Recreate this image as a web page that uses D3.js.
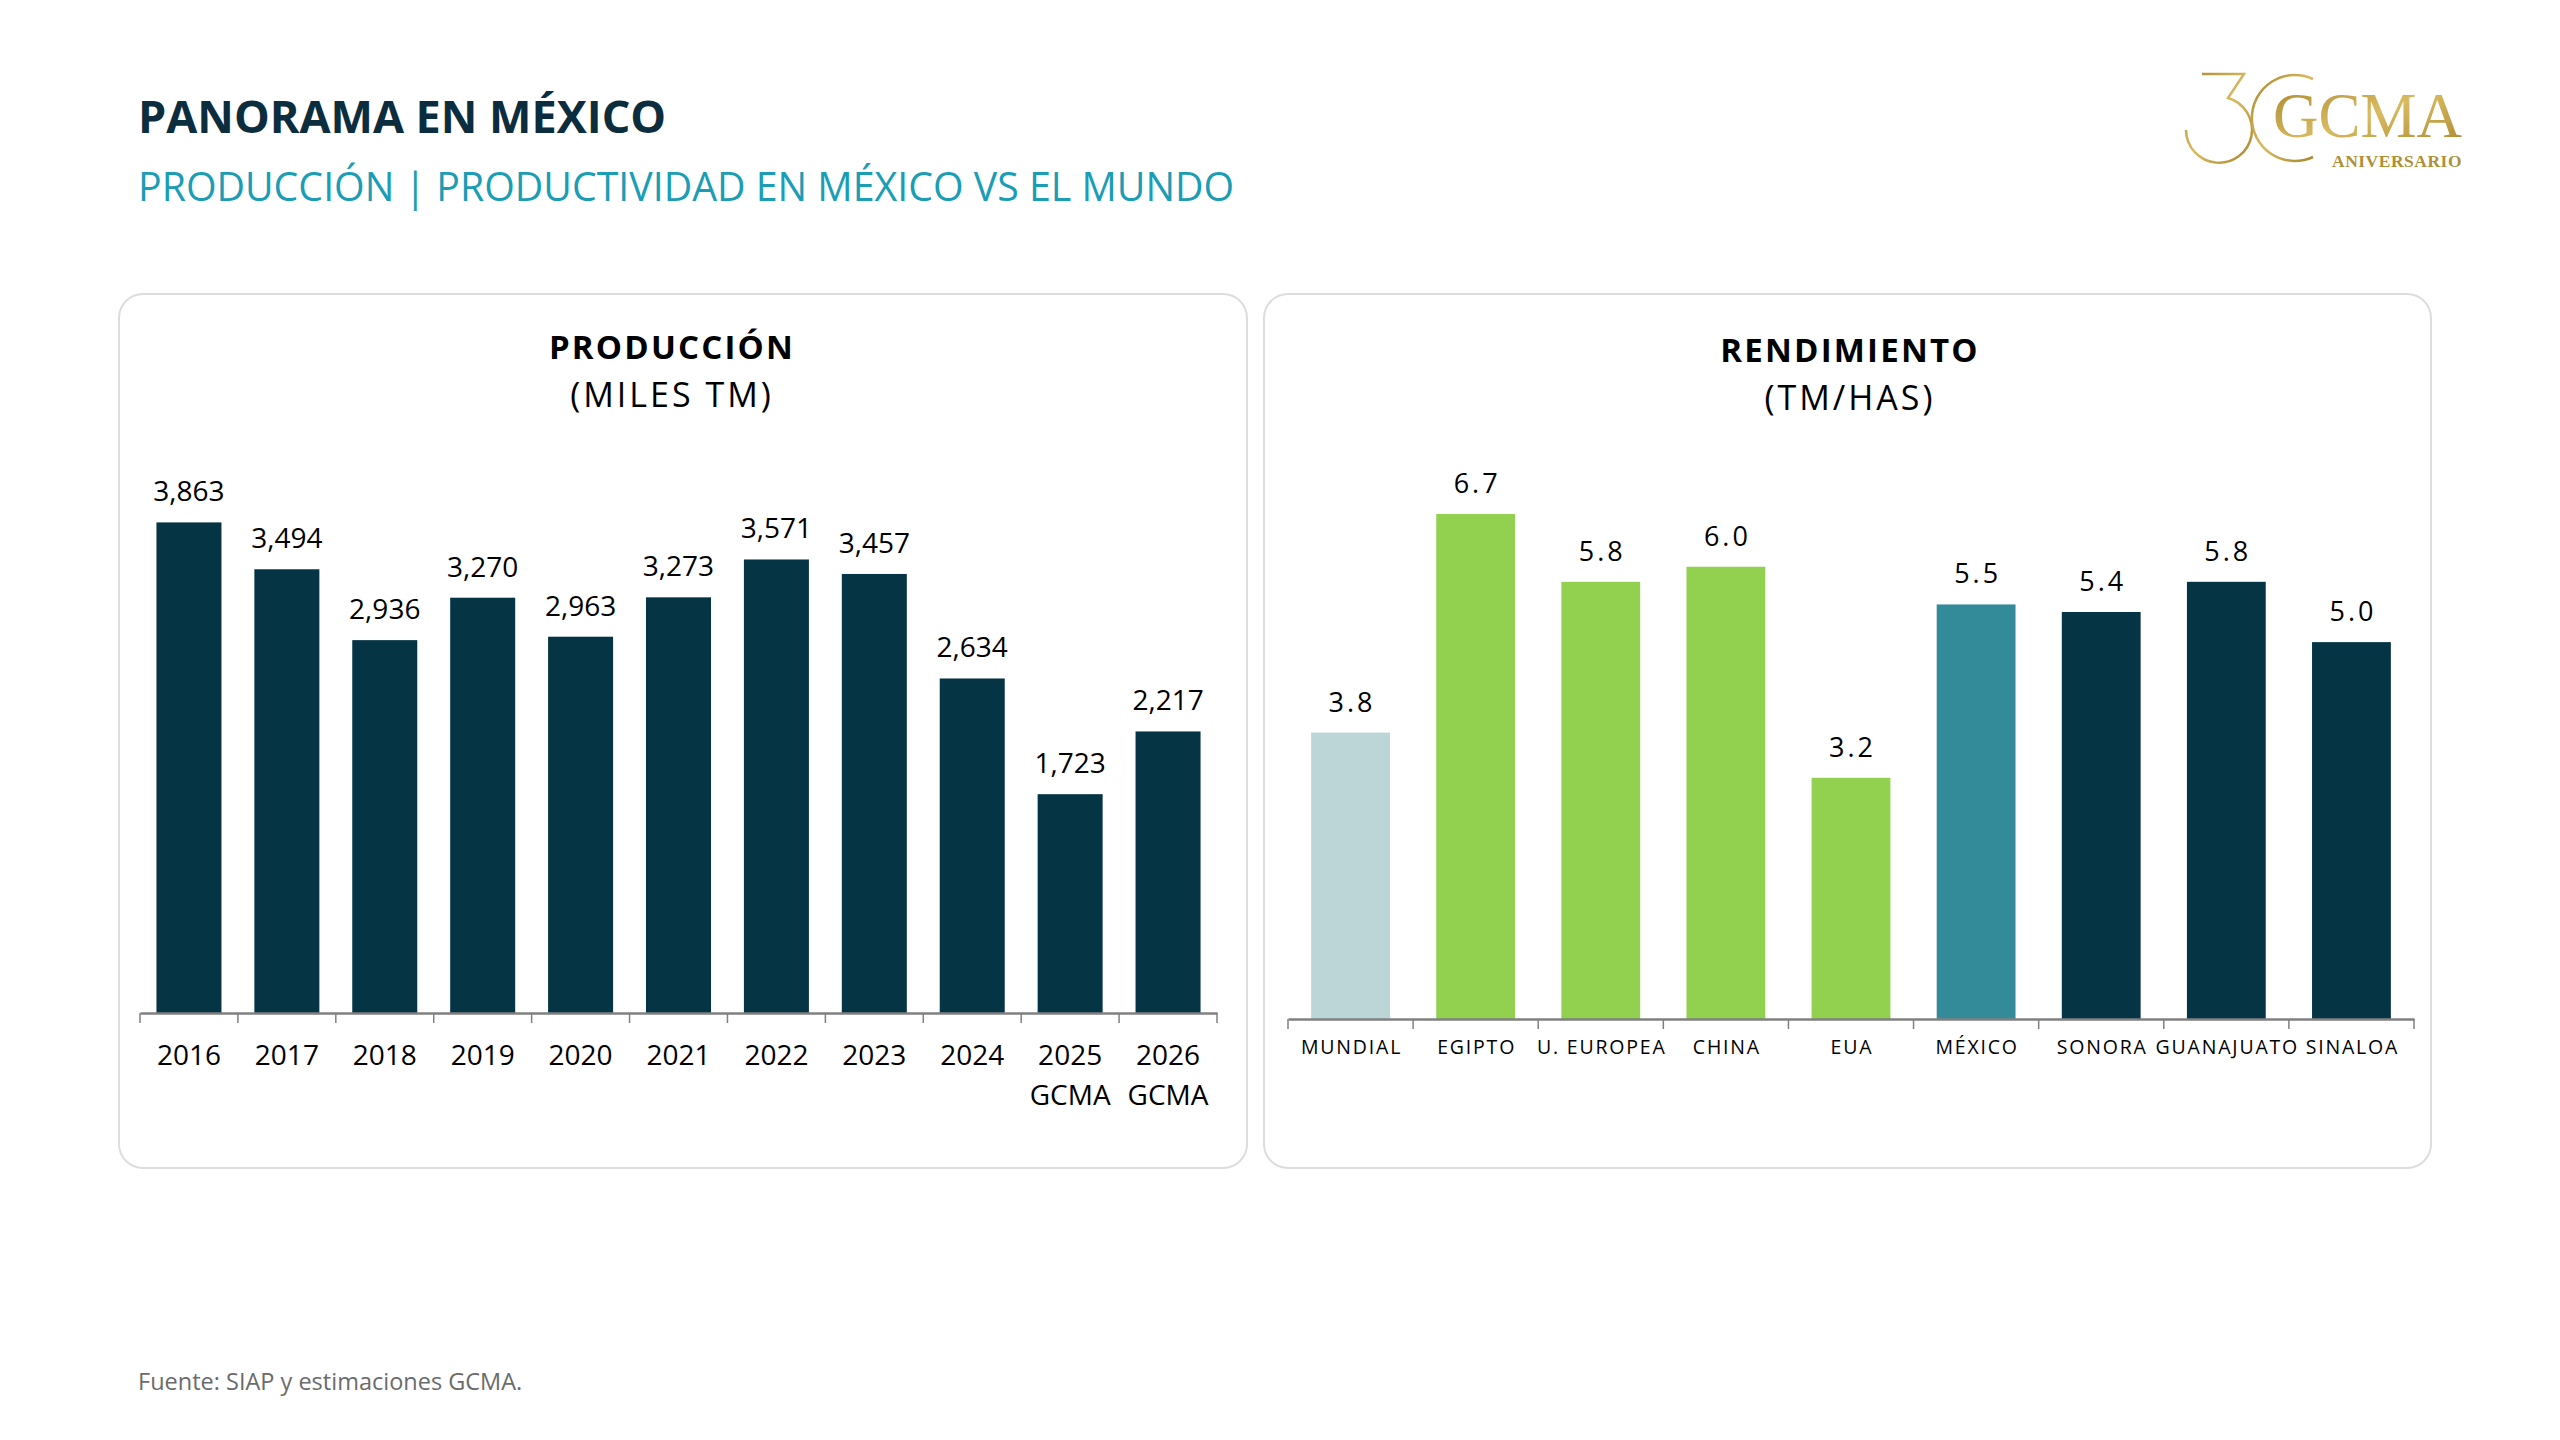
<!DOCTYPE html>
<html>
<head>
  <meta charset="utf-8">
  <title>Panorama en México</title>
  <style>
    body {
      margin: 0;
      background: #ffffff;
    }
    svg text {
      font-family: "Open Sans", "Noto Sans", sans-serif;
    }
  </style>
</head>
<body>
  <div id="chart"></div>

  <script src="https://d3js.org/d3.v7.min.js"></script>
  <script>
    // Producción (miles TM)
    const years = ["2016", "2017", "2018", "2019", "2020", "2021", "2022", "2023", "2024", "2025 GCMA", "2026 GCMA"];
    const production = [3863, 3494, 2936, 3270, 2963, 3273, 3571, 3457, 2634, 1723, 2217];

    // Rendimiento (TM/HAS)
    const regions = ["MUNDIAL", "EGIPTO", "U. EUROPEA", "CHINA", "EUA", "MÉXICO", "SONORA", "GUANAJUATO", "SINALOA"];
    const yieldValues = [3.8, 6.7, 5.8, 6.0, 3.2, 5.5, 5.4, 5.8, 5.0];
    const regionGroup = ["world", "country", "country", "country", "country", "mexico", "state", "state", "state"];
    const groupColors = { world: "#bcd5d7", country: "#92d050", mexico: "#338b9a", state: "#053545" };

    const svg = d3.select("#chart")
      .append("svg")
      .attr("width", 2560)
      .attr("height", 1440)
      .attr("viewBox", [0, 0, 2560, 1440]);

    // Header
    svg.append("text")
      .attr("x", 138)
      .attr("y", 133)
      .attr("font-size", 45)
      .attr("font-weight", 700)
      .attr("fill", "#0b2d3e")
      .text("PANORAMA EN MÉXICO");

    svg.append("text")
      .attr("x", 138)
      .attr("y", 201)
      .attr("font-size", 39.3)
      .attr("fill", "#1a9db5")
      .text("PRODUCCIÓN | PRODUCTIVIDAD EN MÉXICO VS EL MUNDO");

    // Logo (30 aniversario)
    const gold = svg.append("defs")
      .append("linearGradient")
      .attr("id", "gold")
      .attr("x1", "0%").attr("y1", "0%")
      .attr("x2", "100%").attr("y2", "100%");
    gold.append("stop").attr("offset", "0%").attr("stop-color", "#a8852a");
    gold.append("stop").attr("offset", "50%").attr("stop-color", "#d9bb62");
    gold.append("stop").attr("offset", "100%").attr("stop-color", "#a9862c");

    const logo = svg.append("g");
    logo.append("path")
      .attr("d", "M2202,74 H2244 L2228,98 A33,33 0 1,1 2186,130")
      .attr("fill", "none")
      .attr("stroke", "url(#gold)")
      .attr("stroke-width", 2.5);
    logo.append("path")
      .attr("d", "M2313,79 A43,43 0 1,0 2313,157")
      .attr("fill", "none")
      .attr("stroke", "url(#gold)")
      .attr("stroke-width", 2.5);
    logo.append("text")
      .attr("x", 2462)
      .attr("y", 137)
      .attr("text-anchor", "end")
      .style("font-family", "'Liberation Serif', 'DejaVu Serif', serif")
      .attr("font-size", 63)
      .attr("fill", "url(#gold)")
      .text("GCMA");
    logo.append("text")
      .attr("x", 2462)
      .attr("y", 167)
      .attr("text-anchor", "end")
      .style("font-family", "'Liberation Serif', 'DejaVu Serif', serif")
      .attr("font-size", 17.5)
      .attr("font-weight", 700)
      .attr("letter-spacing", 0.5)
      .attr("fill", "#b09035")
      .text("ANIVERSARIO");

    // Panels
    const panels = [
      { x: 119, y: 294, w: 1128, h: 874 },
      { x: 1264, y: 294, w: 1167, h: 874 }
    ];
    svg.selectAll("rect.panel")
      .data(panels)
      .enter()
      .append("rect")
      .attr("class", "panel")
      .attr("x", d => d.x)
      .attr("y", d => d.y)
      .attr("width", d => d.w)
      .attr("height", d => d.h)
      .attr("rx", 24)
      .attr("fill", "#ffffff")
      .attr("stroke", "#dddddd")
      .attr("stroke-width", 2);

    // Panel titles
    function panelTitle(cx, y, title, unit) {
      svg.append("text")
        .attr("x", cx)
        .attr("y", y)
        .attr("text-anchor", "middle")
        .attr("font-size", 33)
        .attr("font-weight", 700)
        .attr("letter-spacing", 2.2)
        .attr("fill", "#000000")
        .text(title);
      svg.append("text")
        .attr("x", cx)
        .attr("y", y + 48)
        .attr("text-anchor", "middle")
        .attr("font-size", 34)
        .attr("letter-spacing", 3)
        .attr("fill", "#000000")
        .text(unit);
    }
    panelTitle(672, 359, "PRODUCCIÓN", "(MILES TM)");
    panelTitle(1850, 362, "RENDIMIENTO", "(TM/HAS)");

    // Boundary ticks like a category axis
    function boundaryTicks(g, scale) {
      const gap = (scale.step() - scale.bandwidth()) / 2;
      const bounds = scale.domain().map(d => scale(d) - gap);
      bounds.push(scale.range()[1]);
      g.selectAll("line.bound")
        .data(bounds)
        .enter()
        .append("line")
        .attr("class", "bound")
        .attr("x1", d => d)
        .attr("x2", d => d)
        .attr("y1", 0)
        .attr("y2", 10)
        .attr("stroke", "#808080")
        .attr("stroke-width", 1.5);
    }

    // Chart 1: Producción
    const x1 = d3.scaleBand()
      .domain(years)
      .range([140, 1217])
      .paddingInner(0.336)
      .paddingOuter(0.168);

    const y1 = d3.scaleLinear()
      .domain([0, 4000])
      .range([1013, 505]);

    svg.append("g")
      .selectAll("rect")
      .data(production)
      .enter()
      .append("rect")
      .attr("x", (d, i) => x1(years[i]))
      .attr("y", d => y1(d))
      .attr("width", x1.bandwidth())
      .attr("height", d => y1(0) - y1(d))
      .attr("fill", "#053545");

    svg.append("g")
      .selectAll("text")
      .data(production)
      .enter()
      .append("text")
      .attr("x", (d, i) => x1(years[i]) + x1.bandwidth() / 2)
      .attr("y", d => y1(d) - 21)
      .attr("text-anchor", "middle")
      .attr("font-size", 28)
      .attr("fill", "#000000")
      .text(d => d3.format(",")(d));

    const xAxis1 = svg.append("g")
      .attr("transform", "translate(0, 1013)")
      .call(d3.axisBottom(x1).tickSize(0).tickSizeOuter(0).tickPadding(0));

    xAxis1.select(".domain")
      .attr("stroke", "#808080")
      .attr("stroke-width", 2.5);

    xAxis1.selectAll(".tick text")
      .attr("font-size", 28)
      .attr("fill", "#000000")
      .attr("dy", null)
      .attr("y", 0)
      .text(null)
      .each(function (d) {
        const parts = d.split(" ");
        const t = d3.select(this);
        parts.forEach((p, k) => {
          t.append("tspan")
            .attr("x", 0)
            .attr("y", 52 + k * 40)
            .text(p);
        });
      });

    boundaryTicks(xAxis1, x1);

    // Chart 2: Rendimiento
    const x2 = d3.scaleBand()
      .domain(regions)
      .range([1288, 2414])
      .paddingInner(0.37)
      .paddingOuter(0.185);

    const y2 = d3.scaleLinear()
      .domain([0, 8])
      .range([1019, 416]);

    svg.append("g")
      .selectAll("rect")
      .data(yieldValues)
      .enter()
      .append("rect")
      .attr("x", (d, i) => x2(regions[i]))
      .attr("y", d => y2(d))
      .attr("width", x2.bandwidth())
      .attr("height", d => y2(0) - y2(d))
      .attr("fill", (d, i) => groupColors[regionGroup[i]]);

    svg.append("g")
      .selectAll("text")
      .data(yieldValues)
      .enter()
      .append("text")
      .attr("x", (d, i) => x2(regions[i]) + x2.bandwidth() / 2 + 1.5)
      .attr("y", d => y2(d) - 21)
      .attr("text-anchor", "middle")
      .attr("font-size", 27)
      .attr("letter-spacing", 3)
      .attr("fill", "#000000")
      .text(d => d.toFixed(1));

    const xAxis2 = svg.append("g")
      .attr("transform", "translate(0, 1019)")
      .call(d3.axisBottom(x2).tickSize(0).tickSizeOuter(0).tickPadding(0));

    xAxis2.select(".domain")
      .attr("stroke", "#808080")
      .attr("stroke-width", 2.5);

    xAxis2.selectAll(".tick text")
      .attr("font-size", 19.5)
      .attr("letter-spacing", 1.8)
      .attr("fill", "#000000")
      .attr("dy", null)
      .attr("y", 35)
      .attr("dx", 1);

    boundaryTicks(xAxis2, x2);

    // Footer
    svg.append("text")
      .attr("x", 138)
      .attr("y", 1390)
      .attr("font-size", 23.5)
      .attr("fill", "#6b6b6b")
      .text("Fuente: SIAP y estimaciones GCMA.");
  </script>
</body>
</html>
